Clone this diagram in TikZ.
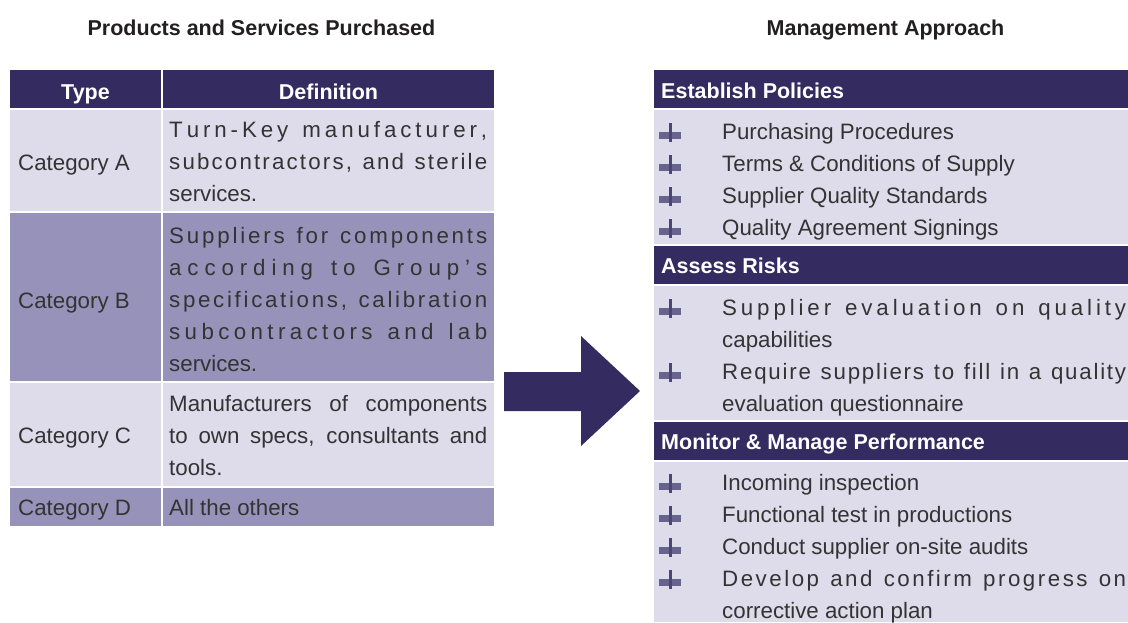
\documentclass[tikz,border=0pt]{standalone}
\usepackage{fontspec}
\setmainfont{Liberation Sans}
\definecolor{hdr}{HTML}{342B60}
\definecolor{lite}{HTML}{DEDCEB}
\definecolor{midc}{HTML}{9792B9}
\definecolor{txtc}{HTML}{333333}
\definecolor{titc}{HTML}{231F20}
\definecolor{bulc}{HTML}{4B4575}
\ExplSyntaxOn
\NewDocumentCommand\spreadline{m m}{\makebox[#1][s]{\str_map_inline:nn{#2}{##1\hfil}\unskip}}
\ExplSyntaxOff
\tikzset{
  cell/.style={inner sep=0pt, outer sep=0pt, anchor=north west, draw=none},
  body/.style={anchor=base west, inner sep=0pt, font=\fontsize{22.3}{26}\selectfont, text=txtc},
  hdrtext/.style={inner sep=0pt, font=\bfseries\fontsize{21.5}{26}\selectfont, text=white},
  titletext/.style={anchor=base, inner sep=0pt, font=\bfseries\fontsize{21.5}{26}\selectfont, text=titc},
  bulletmark/.pic={
    \fill[bulc, opacity=0.8] (-11,-7) rectangle (11,-0.5);
    \fill[bulc] (-1.5,-16) rectangle (1.5,3);
  }
}
\begin{document}
\begin{tikzpicture}[x=1pt,y=-1pt]
\useasboundingbox (0,0) rectangle (1128,622);
% titles
\node[titletext] (t1) at (261.5,35) {Products and Services Purchased};
\node[titletext] (t2) at (885.5,35) {Management Approach};
% left table cells
\node[cell, fill=hdr, minimum width=151pt, minimum height=38pt] (c00) at (10,70) {};
\node[cell, fill=hdr, minimum width=331pt, minimum height=38pt] (c01) at (163,70) {};
\node[cell, fill=lite, minimum width=151pt, minimum height=101pt] (c10) at (10,110) {};
\node[cell, fill=lite, minimum width=331pt, minimum height=101pt] (c11) at (163,110) {};
\node[cell, fill=midc, minimum width=151pt, minimum height=168pt] (c20) at (10,213) {};
\node[cell, fill=midc, minimum width=331pt, minimum height=168pt] (c21) at (163,213) {};
\node[cell, fill=lite, minimum width=151pt, minimum height=103pt] (c30) at (10,383) {};
\node[cell, fill=lite, minimum width=331pt, minimum height=103pt] (c31) at (163,383) {};
\node[cell, fill=midc, minimum width=151pt, minimum height=38pt] (c40) at (10,488) {};
\node[cell, fill=midc, minimum width=331pt, minimum height=38pt] (c41) at (163,488) {};
% header texts
\node[hdrtext, anchor=base] (hType) at (85.5,99) {Type};
\node[hdrtext, anchor=base] (hDef) at (328.5,99) {Definition};
% row A
\node[body] (cA) at (18,170) {Category A};
\node[body] (dA1) at (169,137) {\spreadline{318pt}{Turn-Key manufacturer,}};
\node[body] (dA2) at (169,169) {\spreadline{318pt}{subcontractors, and sterile}};
\node[body] (dA3) at (169,201) {services.};
% row B
\node[body] (cB) at (18,308) {Category B};
\node[body] (dB1) at (169,243) {\spreadline{318pt}{Suppliers for components}};
\node[body] (dB2) at (169,275) {\spreadline{318pt}{according to Group’s}};
\node[body] (dB3) at (169,307) {\spreadline{318pt}{specifications, calibration}};
\node[body] (dB4) at (169,339) {\spreadline{318pt}{subcontractors and lab}};
\node[body] (dB5) at (169,371) {services.};
% row C
\node[body] (cC) at (18,443) {Category C};
\node[body] (dC1) at (169,411) {\makebox[318pt][s]{Manufacturers of components}};
\node[body] (dC2) at (169,443) {\makebox[318pt][s]{to own specs, consultants and}};
\node[body] (dC3) at (169,475) {tools.};
% row D
\node[body] (cD) at (18,515) {Category D};
\node[body] (dD1) at (169,515) {All the others};
% arrow
\fill[hdr] (504,372) -- (581,372) -- (581,336) -- (640,391) -- (581,446) -- (581,411) -- (504,411) -- cycle;
% right panel
\node[cell, fill=hdr, minimum width=474pt, minimum height=38pt] (p1h) at (654,70) {};
\node[cell, fill=lite, minimum width=474pt, minimum height=134pt] (p1b) at (654,110) {};
\node[cell, fill=hdr, minimum width=474pt, minimum height=38pt] (p2h) at (654,246) {};
\node[cell, fill=lite, minimum width=474pt, minimum height=134pt] (p2b) at (654,286) {};
\node[cell, fill=hdr, minimum width=474pt, minimum height=38pt] (p3h) at (654,422) {};
\node[cell, fill=lite, minimum width=474pt, minimum height=160pt] (p3b) at (654,462) {};
\node[hdrtext, anchor=base west] (h1) at (661,98) {Establish Policies};
\node[hdrtext, anchor=base west] (h2) at (661,273) {Assess Risks};
\node[hdrtext, anchor=base west] (h3) at (661,449) {Monitor \& Manage Performance};
% bullets
\foreach \yy in {139,171,203,235,315,379,490,522,554,586} {
  \pic at (670,\yy) {bulletmark};
}
% items
\node[body] (e1) at (722,139) {Purchasing Procedures};
\node[body] (e2) at (722,171) {Terms \& Conditions of Supply};
\node[body] (e3) at (722,203) {Supplier Quality Standards};
\node[body] (e4) at (722,235) {Quality Agreement Signings};
\node[body] (a1) at (722,315) {\spreadline{404pt}{Supplier evaluation on quality}};
\node[body] (a1b) at (722,347) {capabilities};
\node[body] (a2) at (722,379) {\spreadline{404pt}{Require suppliers to fill in a quality}};
\node[body] (a2b) at (722,411) {evaluation questionnaire};
\node[body] (m1) at (722,490) {Incoming inspection};
\node[body] (m2) at (722,522) {Functional test in productions};
\node[body] (m3) at (722,554) {Conduct supplier on-site audits};
\node[body] (m4) at (722,586) {\spreadline{404pt}{Develop and confirm progress on}};
\node[body] (m4b) at (722,618) {corrective action plan};
\end{tikzpicture}
\end{document}
